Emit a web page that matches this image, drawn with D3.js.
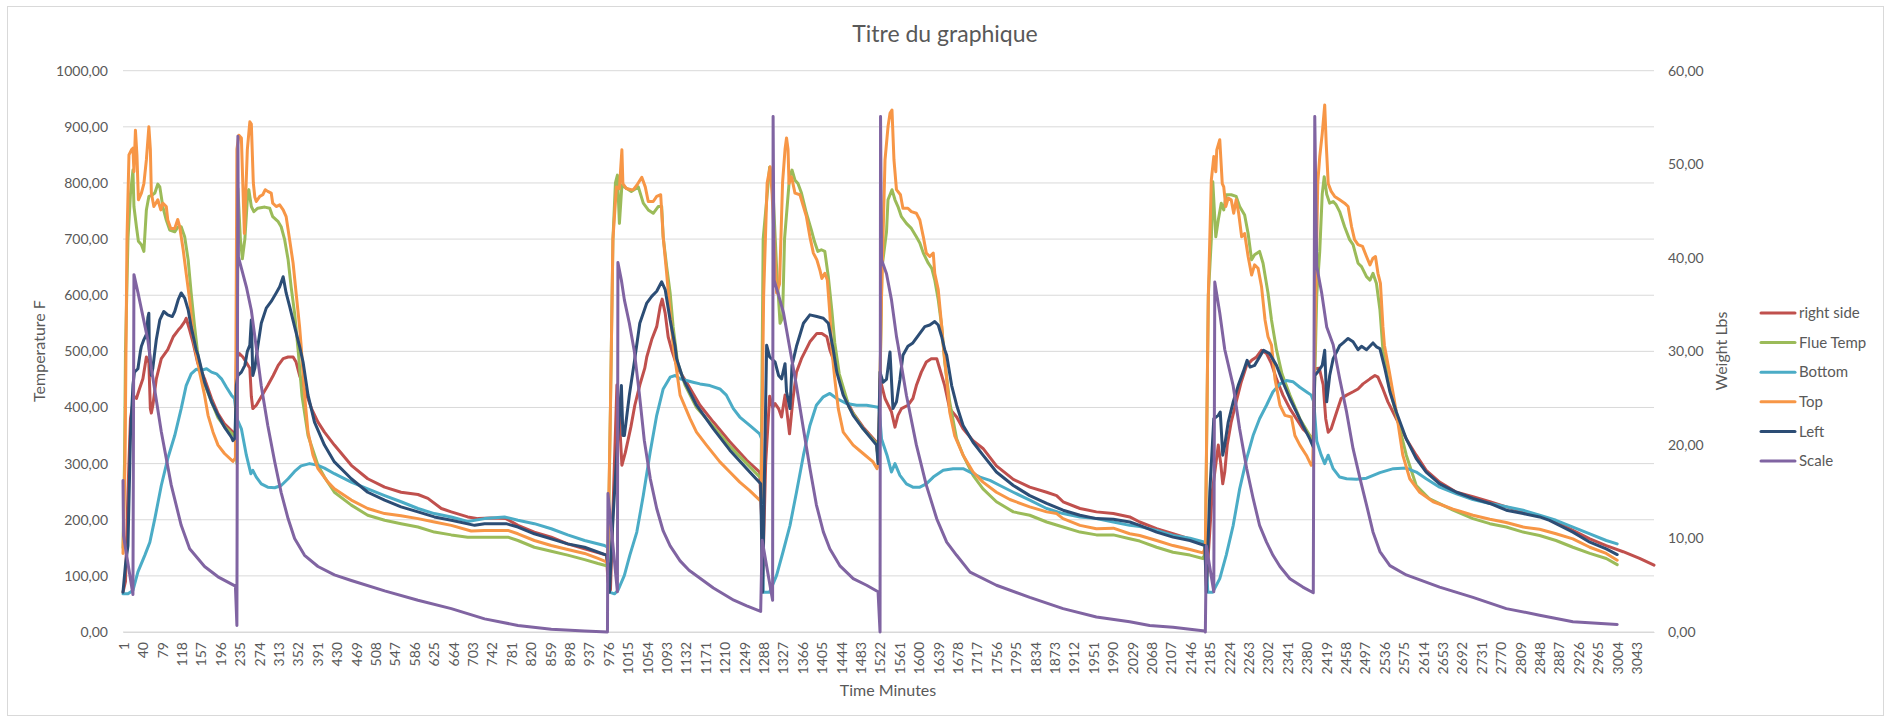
<!DOCTYPE html>
<html><head><meta charset="utf-8">
<script src="https://cdn.jsdelivr.net/npm/d3@7/dist/d3.min.js"></script>
<style>
html,body{margin:0;padding:0;background:#fff;}
svg text{font-family:Lato,"Open Sans",sans-serif;fill:#595959;}
</style></head>
<body><svg id="chart" width="1896" height="722"></svg>
<script>
// ---- data: [minute, value] ----
const xTickLabels = [1,40,79,118,157,196,235,274,313,352,391,430,469,508,547,586,625,664,703,742,781,820,859,898,937,976,1015,1054,1093,1132,1171,1210,1249,1288,1327,1366,1405,1444,1483,1522,1561,1600,1639,1678,1717,1756,1795,1834,1873,1912,1951,1990,2029,2068,2107,2146,2185,2224,2263,2302,2341,2380,2419,2458,2497,2536,2575,2614,2653,2692,2731,2770,2809,2848,2887,2926,2965,3004,3043];
const leftTicks = [0,100,200,300,400,500,600,700,800,900,1000];
const rightTicks = [0,10,20,30,40,50,60];
const seriesNames = ["right side","Flue Temp","Bottom","Top","Left","Scale"];

const rightSideData = [[0,71],[5,90],[10,250],[15,380],[22,420],[27,416],[33,433],[40,451],[47,490],[52,480],[55,398],[57,390],[60,404],[67,451],[77,487],[90,503],[101,526],[111,538],[117,544],[124,553],[127,559],[134,538],[141,515],[150,480],[164,451],[178,416],[191,389],[204,371],[221,356],[226,350],
[228,487],[234,496],[241,490],[248,480],[255,470],[258,420],[261,398],[268,404],[278,419],[291,439],[302,457],[312,475],[322,487],[332,490],[342,490],[348,481],[355,457],[365,433],[379,398],[392,374],[405,356],[425,333],[459,297],[492,273],[526,258],[559,249],[593,245],[613,238],[640,220],[660,214],[693,205],[714,202],[740,203],[770,202],[794,190],[827,178],[861,169],[894,157],[928,148],[972,137],
[975,90],[980,75],[988,300],[993,440],[998,380],[1003,297],[1010,320],[1021,365],[1029,404],[1039,440],[1049,470],[1053,490],[1063,521],[1073,544],[1080,580],[1084,593],[1090,568],[1096,526],[1103,503],[1115,470],[1133,445],[1160,404],[1187,374],[1220,339],[1254,306],[1280,285],
[1284,200],[1286,95],[1292,300],[1300,420],[1306,400],[1311,407],[1318,398],[1324,383],[1331,422],[1340,353],[1347,416],[1354,463],[1364,487],[1381,517],[1395,532],[1405,532],[1415,526],[1421,503],[1435,468],[1448,425],[1468,390],[1488,365],[1515,338],
[1519,300],[1522,451],[1532,416],[1545,392],[1552,365],[1558,386],[1565,398],[1578,404],[1588,416],[1595,439],[1605,463],[1615,481],[1625,487],[1636,487],[1642,469],[1652,439],[1662,398],[1676,383],[1689,362],[1709,341],[1729,327],[1756,296],[1790,272],[1823,258],[1857,249],[1877,243],[1890,232],[1924,220],[1957,214],[1991,211],[2024,205],[2044,196],[2078,184],[2111,175],[2145,166],[2175,157],
[2178,83],[2190,250],[2202,333],[2207,300],[2211,264],[2215,285],[2220,333],[2228,374],[2238,410],[2248,445],[2259,475],[2269,484],[2279,490],[2289,502],[2299,496],[2309,478],[2319,451],[2332,422],[2346,398],[2359,380],[2372,362],[2386,350],
[2393,340],[2396,469],[2405,470],[2413,440],[2418,380],[2423,356],[2429,362],[2440,392],[2449,416],[2460,422],[2473,428],[2483,433],[2493,442],[2507,451],[2517,457],[2523,454],[2533,433],[2543,410],[2560,380],[2580,344],[2600,315],[2620,288],[2647,267],[2681,249],[2714,241],[2748,232],[2781,223],[2815,214],[2848,207],[2881,196],[2915,181],[2949,166],[2982,154],[3016,143],[3049,131],[3078,119]];

const flueTempData = [[0,150],[3,300],[5,500],[10,700],[15,780],[20,823],[22,758],[27,722],[31,696],[37,690],[42,678],[47,752],[52,776],[58,778],[64,782],[70,798],[74,793],[80,758],[87,734],[94,716],[104,713],[111,722],[117,722],[124,704],[131,663],[137,604],[144,544],[151,490],[164,442],[178,410],[191,382],[204,366],[221,352],[226,348],
[229,300],[231,790],[236,700],[240,665],[245,700],[251,785],[253,788],[258,758],[263,749],[271,755],[285,757],[295,755],[301,740],[312,731],[318,722],[325,699],[332,663],[338,615],[345,568],[352,503],[360,420],[372,350],[392,297],[405,276],[425,249],[459,226],[492,208],[526,199],[559,193],[593,187],[626,178],[660,173],[693,169],[727,169],[774,169],[794,163],[827,151],[861,144],[894,137],[928,129],[955,122],[972,118],
[975,120],[980,400],[985,700],[990,800],[994,814],[998,728],[1003,796],[1008,793],[1022,785],[1036,793],[1046,764],[1056,752],[1066,746],[1076,758],[1083,758],[1086,704],[1093,651],[1100,604],[1106,544],[1115,480],[1130,440],[1153,400],[1187,366],[1220,331],[1254,300],[1280,276],
[1283,280],[1287,700],[1300,828],[1306,800],[1314,650],[1321,550],[1326,560],[1330,700],[1340,810],[1345,823],[1351,805],[1357,799],[1364,782],[1374,746],[1384,716],[1390,696],[1397,678],[1404,681],[1411,678],[1418,633],[1425,574],[1431,515],[1440,460],[1460,400],[1488,362],[1515,336],
[1519,300],[1526,650],[1535,713],[1538,770],[1546,788],[1552,770],[1558,758],[1565,740],[1575,728],[1585,719],[1595,704],[1602,693],[1609,675],[1619,657],[1626,648],[1632,627],[1639,592],[1646,544],[1652,481],[1662,410],[1676,344],[1689,315],[1709,279],[1729,255],[1756,232],[1790,214],[1823,208],[1857,196],[1890,187],[1924,178],[1957,173],[1991,173],[2024,166],[2044,162],[2078,151],[2111,142],[2145,137],[2171,131],
[2176,140],[2182,600],[2188,699],[2191,802],[2197,704],[2202,734],[2208,764],[2213,752],[2218,779],[2228,779],[2238,776],[2245,758],[2255,743],[2262,710],[2269,663],[2275,672],[2285,678],[2292,657],[2302,604],[2309,556],[2319,503],[2330,460],[2346,422],[2366,380],[2386,350],
[2393,340],[2400,600],[2406,678],[2411,780],[2415,811],[2420,780],[2426,764],[2433,767],[2439,761],[2446,749],[2456,722],[2466,699],[2473,690],[2483,657],[2490,651],[2500,633],[2507,627],[2513,639],[2520,621],[2527,574],[2533,503],[2545,440],[2567,362],[2580,315],[2600,261],[2627,237],[2674,217],[2714,202],[2748,193],[2781,187],[2815,178],[2848,172],[2881,163],[2915,151],[2949,140],[2982,131],[3004,120]];

const bottomData = [[0,68],[10,68],[20,74],[30,107],[44,137],[54,160],[64,202],[77,261],[90,309],[104,350],[117,398],[127,439],[137,460],[147,468],[157,466],[168,469],[178,463],[188,460],[198,451],[208,436],[218,422],[224,416],[229,380],[238,362],[248,315],[257,282],[261,288],[268,276],[278,264],[291,258],[305,257],[318,261],[332,273],[345,286],[358,296],[375,300],[392,297],[405,292],[425,282],[459,267],[492,255],[526,243],[559,232],[593,220],[626,211],[660,205],[693,197],[727,202],[767,205],[794,199],[827,193],[861,184],[894,173],[928,163],[968,154],[974,151],
[978,71],[988,68],[995,74],[1008,101],[1019,137],[1033,178],[1046,243],[1060,321],[1073,386],[1086,433],[1100,454],[1110,457],[1120,451],[1133,448],[1146,445],[1160,442],[1180,439],[1200,433],[1213,422],[1227,398],[1240,383],[1260,368],[1280,353],[1284,344],
[1287,71],[1300,71],[1314,101],[1327,143],[1341,190],[1354,249],[1368,315],[1381,368],[1394,404],[1408,419],[1421,425],[1435,416],[1455,407],[1475,404],[1495,404],[1515,401],[1520,400],
[1525,344],[1536,315],[1545,285],[1552,300],[1562,279],[1575,264],[1588,258],[1602,258],[1615,264],[1629,276],[1649,288],[1669,291],[1689,291],[1703,285],[1723,276],[1743,270],[1763,261],[1790,249],[1823,235],[1857,220],[1890,211],[1924,205],[1957,202],[1991,196],[2024,190],[2044,188],[2078,181],[2111,172],[2145,167],[2175,160],
[2181,71],[2191,71],[2205,95],[2218,137],[2232,190],[2245,255],[2259,309],[2272,350],[2285,380],[2299,404],[2312,428],[2326,442],[2339,448],[2352,446],[2366,436],[2379,428],[2389,422],[2394,410],
[2400,340],[2409,315],[2416,300],[2423,315],[2433,291],[2446,276],[2460,273],[2480,272],[2500,274],[2527,284],[2554,291],[2580,292],[2600,285],[2620,273],[2647,258],[2681,246],[2714,236],[2748,229],[2781,223],[2815,217],[2848,208],[2881,199],[2915,187],[2949,175],[2982,163],[3004,157]];

const topData = [[0,140],[4,300],[8,700],[12,850],[17,859],[20,862],[22,820],[25,894],[28,850],[31,770],[37,782],[42,799],[47,841],[52,900],[55,860],[57,782],[62,758],[66,764],[70,770],[76,752],[80,764],[87,758],[90,734],[96,719],[104,719],[110,735],[114,722],[121,681],[127,639],[134,592],[141,526],[144,511],[154,463],[164,422],[171,386],[181,356],[191,333],[204,318],[221,304],[226,310],
[229,860],[233,885],[238,880],[244,710],[250,860],[255,909],[258,905],[262,800],[265,775],[268,767],[275,776],[281,779],[286,788],[291,785],[298,782],[301,764],[308,758],[315,761],[322,752],[328,740],[335,699],[342,657],[348,604],[355,544],[358,511],[365,422],[372,356],[382,315],[392,291],[412,267],[425,255],[459,235],[492,220],[526,211],[559,207],[593,202],[626,196],[660,190],[700,180],[727,181],[774,181],[794,175],[827,163],[861,154],[894,147],[928,140],[955,131],[972,125],
[975,150],[980,400],[985,700],[992,793],[998,790],[1003,859],[1005,799],[1012,790],[1022,788],[1026,788],[1033,796],[1043,810],[1050,793],[1056,767],[1066,767],[1073,776],[1081,779],[1086,704],[1093,639],[1100,568],[1106,511],[1120,422],[1140,380],[1153,356],[1173,333],[1200,303],[1220,285],[1240,267],[1260,252],[1280,235],
[1283,240],[1288,600],[1295,800],[1301,829],[1305,780],[1314,604],[1320,620],[1326,800],[1331,860],[1334,880],[1337,860],[1339,799],[1344,811],[1351,782],[1361,779],[1368,758],[1374,740],[1381,704],[1388,675],[1395,663],[1401,645],[1405,630],[1411,639],[1416,627],[1421,568],[1425,503],[1431,451],[1438,398],[1448,356],[1468,333],[1488,318],[1508,303],[1516,291],
[1519,300],[1525,600],[1532,841],[1538,900],[1542,924],[1546,930],[1550,841],[1555,788],[1563,779],[1568,755],[1578,755],[1585,749],[1595,746],[1602,734],[1609,704],[1615,675],[1622,669],[1629,675],[1632,639],[1639,610],[1646,544],[1649,511],[1656,451],[1662,392],[1672,350],[1689,315],[1709,285],[1729,267],[1756,249],[1783,236],[1823,223],[1857,214],[1877,211],[1890,202],[1924,190],[1957,184],[1991,185],[2024,175],[2044,172],[2078,163],[2111,154],[2145,147],[2171,141],
[2176,150],[2182,600],[2188,805],[2193,847],[2197,820],[2199,859],[2205,877],[2210,799],[2213,793],[2217,758],[2222,773],[2228,770],[2233,746],[2238,770],[2243,746],[2249,704],[2255,710],[2262,669],[2269,636],[2275,654],[2282,648],[2289,615],[2296,556],[2302,526],[2309,511],[2316,451],[2326,404],[2336,386],[2349,383],[2356,350],[2366,333],[2379,315],[2389,297],[2392,300],
[2396,500],[2402,800],[2406,847],[2411,888],[2416,939],[2419,870],[2423,799],[2429,785],[2436,776],[2446,770],[2456,764],[2463,758],[2470,722],[2476,699],[2483,690],[2492,687],[2500,669],[2507,654],[2513,666],[2518,669],[2523,639],[2528,621],[2533,544],[2536,511],[2546,463],[2560,392],[2573,315],[2587,273],[2607,249],[2634,232],[2674,219],[2714,208],[2748,201],[2781,195],[2815,187],[2848,183],[2881,175],[2915,166],[2949,151],[2982,140],[3004,128]];

const leftData = [[0,71],[5,120],[10,154],[15,350],[20,440],[23,463],[30,469],[35,500],[37,509],[42,521],[47,530],[50,560],[52,568],[53,503],[57,457],[60,470],[64,500],[67,521],[74,556],[82,571],[90,565],[99,562],[104,571],[111,592],[117,604],[124,595],[131,574],[137,544],[147,503],[151,493],[164,445],[178,410],[191,386],[204,365],[218,347],[221,341],[225,345],
[228,440],[231,457],[238,463],[245,475],[250,500],[255,511],[258,556],[261,457],[265,470],[271,509],[278,550],[288,577],[298,589],[308,604],[315,615],[322,633],[328,604],[335,580],[345,544],[355,509],[362,481],[372,422],[385,374],[405,333],[425,303],[459,273],[492,249],[526,235],[559,223],[593,214],[626,205],[660,199],[707,190],[727,193],[770,193],[794,187],[827,175],[861,166],[894,157],[928,151],[972,137],
[975,120],[978,71],[985,200],[995,350],[1002,439],[1005,350],[1008,350],[1018,422],[1028,481],[1039,550],[1053,586],[1063,598],[1073,607],[1083,624],[1090,610],[1100,556],[1110,509],[1113,487],[1126,451],[1153,404],[1187,362],[1220,324],[1254,291],[1282,264],
[1284,160],[1286,71],[1290,300],[1294,511],[1300,490],[1311,481],[1318,457],[1324,451],[1331,478],[1334,428],[1341,398],[1345,475],[1354,509],[1368,550],[1381,565],[1395,562],[1408,559],[1418,550],[1428,503],[1435,463],[1448,422],[1468,386],[1488,362],[1515,333],
[1518,300],[1522,463],[1528,445],[1535,450],[1542,499],[1548,398],[1555,410],[1562,450],[1568,493],[1578,509],[1588,515],[1602,532],[1612,544],[1622,547],[1632,553],[1639,547],[1646,526],[1652,503],[1656,493],[1666,439],[1676,404],[1689,368],[1709,338],[1729,315],[1756,285],[1790,261],[1823,243],[1857,229],[1890,217],[1924,208],[1957,202],[1991,201],[2024,196],[2044,190],[2078,178],[2111,169],[2145,163],[2175,154],
[2178,71],[2185,250],[2193,380],[2202,386],[2206,392],[2211,315],[2215,333],[2222,374],[2232,410],[2242,439],[2252,463],[2260,484],[2266,472],[2275,475],[2285,490],[2293,502],[2305,496],[2319,475],[2332,445],[2346,416],[2359,392],[2372,368],[2386,344],[2389,338],
[2393,330],[2396,457],[2402,463],[2411,475],[2416,502],[2420,410],[2426,457],[2433,487],[2440,499],[2446,510],[2453,515],[2463,523],[2473,517],[2483,503],[2490,509],[2500,503],[2513,515],[2520,508],[2527,505],[2537,469],[2547,428],[2560,392],[2580,344],[2600,309],[2620,285],[2647,264],[2681,249],[2714,238],[2748,229],[2781,217],[2815,211],[2848,205],[2868,199],[2895,187],[2915,178],[2949,160],[2982,148],[3004,138]];

const scaleData = [[0,16.2],[1,10.3],[20,4.0],[22,38.2],[30,36.3],[50,31.2],[57,28.2],[77,21.4],[97,15.7],[117,11.4],[134,8.9],[164,7.0],[191,5.9],[226,4.9],[229,0.7],[231,53.0],[232,40.1],[238,38.9],[248,36.9],[258,34.4],[265,31.6],[278,26.3],[291,22.1],[305,18.2],[318,14.9],[332,12.1],[345,10.0],[365,8.2],[392,7.0],[425,6.1],[459,5.5],[526,4.4],[593,3.4],[660,2.5],[727,1.4],[794,0.7],[861,0.3],[928,0.1],[974,0.0],
[975,14.8],[994,4.3],[995,39.5],[1002,37.6],[1008,35.5],[1018,33.0],[1028,30.0],[1038,25.5],[1048,20.5],[1060,16.4],[1073,13.2],[1086,10.8],[1100,9.2],[1120,7.6],[1138,6.6],[1187,4.7],[1228,3.4],[1254,2.8],[1282,2.2],
[1285,9.8],[1306,3.4],[1307,55.1],[1309,37.6],[1317,36.2],[1328,34.1],[1340,30.5],[1354,26.3],[1368,21.7],[1381,17.5],[1394,13.6],[1408,10.7],[1421,8.9],[1441,7.1],[1468,5.7],[1495,5.0],[1518,4.3],
[1522,0.0],[1523,55.1],[1525,39.8],[1535,38.3],[1545,35.5],[1555,31.6],[1558,30.7],[1575,25.3],[1595,20.0],[1615,15.7],[1636,12.1],[1656,9.6],[1676,8.2],[1703,6.4],[1756,5.0],[1823,3.7],[1890,2.5],[1957,1.6],[2024,1.1],[2064,0.7],[2111,0.5],[2175,0.1],
[2176,0.0],[2178,9.2],[2193,4.3],[2195,37.4],[2205,34.1],[2215,30.2],[2232,26.3],[2245,21.7],[2259,17.5],[2272,14.3],[2285,11.4],[2299,9.6],[2312,8.2],[2326,7.0],[2346,5.7],[2372,4.8],[2393,4.2],
[2396,55.1],[2400,39.1],[2410,36.2],[2420,32.6],[2433,30.7],[2446,27.1],[2460,23.5],[2473,19.6],[2487,16.4],[2500,13.6],[2513,10.7],[2527,8.6],[2547,7.1],[2580,6.1],[2647,4.8],[2714,3.7],[2781,2.5],[2848,1.8],[2915,1.1],[3004,0.8]];

const colors = ["#C0504D","#9BBB59","#4BACC6","#F79646","#2C4D75","#8064A2"];

// ---- drawing ----
const svg = d3.select("#chart");
const W = 1896, H = 722;
const plot = {left:123, right:1654, top:70.7, bottom:632};

svg.append("rect").attr("x",0).attr("y",0).attr("width",W).attr("height",H).attr("fill","#fff");
svg.append("rect").attr("x",7.5).attr("y",6.5).attr("width",1876).attr("height",709)
  .attr("fill","none").attr("stroke","#d9d9d9").attr("stroke-width",1);

const x = d3.scaleLinear().domain([0,3078]).range([plot.left, plot.right]);
const yL = d3.scaleLinear().domain([0,1000]).range([plot.bottom, plot.top]);
const yR = d3.scaleLinear().domain([0,60]).range([plot.bottom, plot.top]);
const fmt = v => d3.format(".2f")(v).replace(".", ",");

svg.append("g").selectAll("line").data(leftTicks).join("line")
  .attr("x1",plot.left).attr("x2",plot.right)
  .attr("y1",d=>yL(d)).attr("y2",d=>yL(d))
  .attr("stroke","#d9d9d9").attr("stroke-width",1);

const gl = svg.append("g").attr("transform",`translate(${plot.left-15},0)`)
  .call(d3.axisLeft(yL).tickValues(leftTicks).tickFormat(fmt).tickSize(0).tickPadding(0));
gl.select(".domain").remove();
gl.selectAll("text").attr("font-size",14).style("fill","#595959");

const gr = svg.append("g").attr("transform",`translate(${plot.right+14},0)`)
  .call(d3.axisRight(yR).tickValues(rightTicks).tickFormat(fmt).tickSize(0).tickPadding(0));
gr.select(".domain").remove();
gr.selectAll("text").attr("font-size",14).style("fill","#595959");

const gb = svg.append("g").attr("transform",`translate(0,${plot.bottom})`)
  .call(d3.axisBottom(x).tickValues(xTickLabels).tickFormat(d=>d).tickSize(0).tickPadding(0));
gb.select(".domain").attr("stroke","#d9d9d9");
gb.selectAll("text").attr("font-size",14).style("fill","#595959")
  .attr("transform","rotate(-90)").attr("text-anchor","end")
  .attr("x",-10).attr("y",0).attr("dy","0.35em");

const lineL = d3.line().x(d=>x(d[0])).y(d=>yL(d[1]));
const lineR = d3.line().x(d=>x(d[0])).y(d=>yR(d[1]));
const allSeries = [rightSideData, flueTempData, bottomData, topData, leftData, scaleData];
allSeries.forEach((s,i)=>{
  svg.append("path").datum(s)
    .attr("d", i===5 ? lineR : lineL)
    .attr("fill","none").attr("stroke",colors[i]).attr("stroke-width",3)
    .attr("stroke-linejoin","round").attr("stroke-linecap","round");
});

svg.append("text").attr("x",945).attr("y",42).attr("text-anchor","middle")
  .attr("font-size",23).text("Titre du graphique");
svg.append("text").attr("transform",`translate(45,351) rotate(-90)`).attr("text-anchor","middle")
  .attr("font-size",16).text("Temperature F");
svg.append("text").attr("transform",`translate(1727,351) rotate(-90)`).attr("text-anchor","middle")
  .attr("font-size",16).text("Weight Lbs");
svg.append("text").attr("x",888).attr("y",696).attr("text-anchor","middle")
  .attr("font-size",16).text("Time Minutes");

const lg = svg.append("g");
seriesNames.forEach((n,i)=>{
  const yy = 313 + i*29.6;
  lg.append("line").attr("x1",1761).attr("x2",1795).attr("y1",yy).attr("y2",yy)
    .attr("stroke",colors[i]).attr("stroke-width",3).attr("stroke-linecap","round");
  lg.append("text").attr("x",1799).attr("y",yy).attr("dy","0.35em")
    .attr("font-size",15).text(n);
});
</script></body></html>
